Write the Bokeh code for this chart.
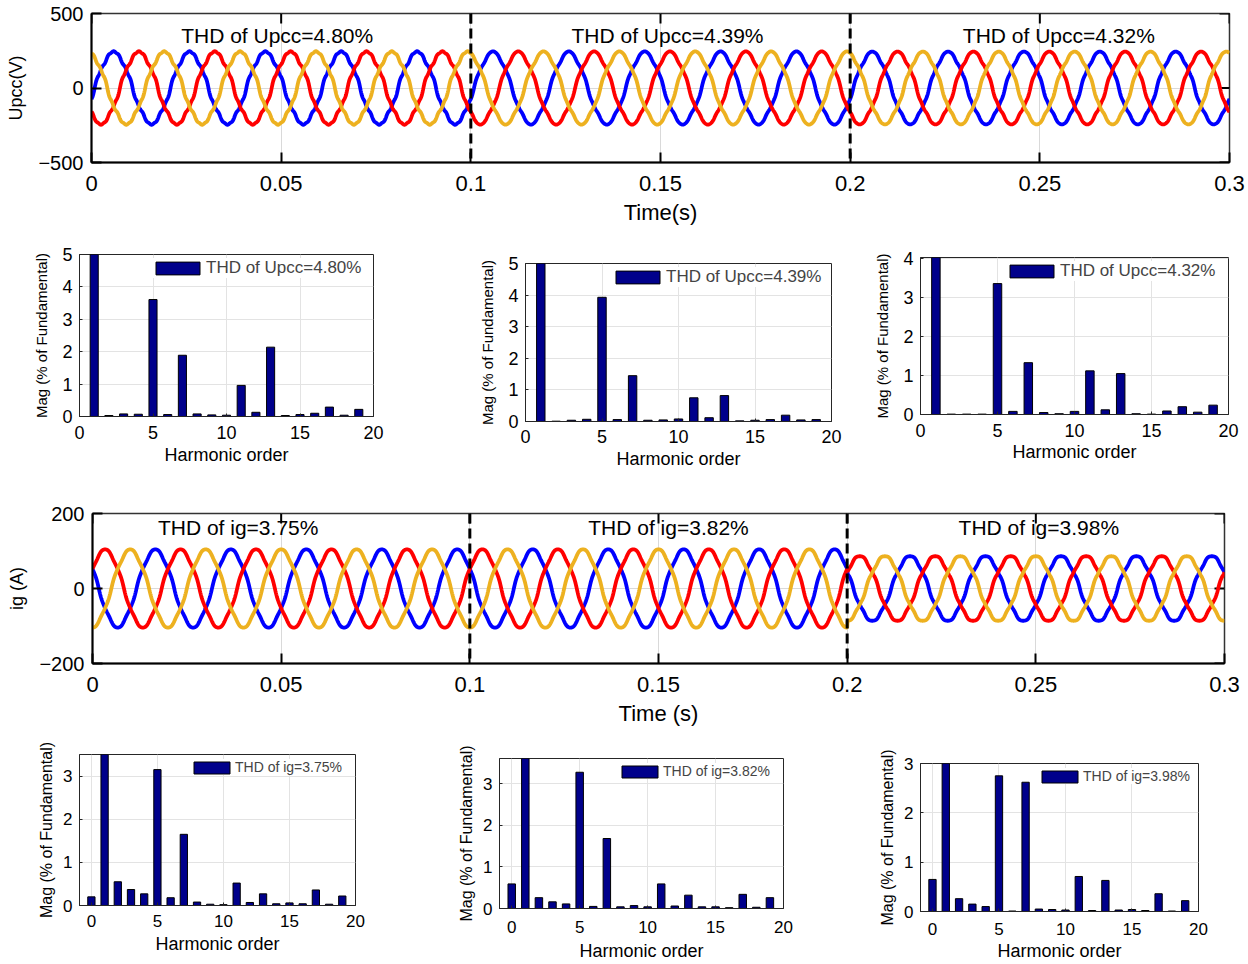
import numpy as np
from bokeh.plotting import figure
from bokeh.layouts import column, row
from bokeh.models import (Range1d, FixedTicker, Span, Label, Legend,
                          LegendItem, CustomJSTickFormatter)
from bokeh.embed import file_html
from bokeh.resources import INLINE

FONT = "Liberation Sans"

# ------------------------------------------------------------------ data
F0 = 50.0                               # fundamental frequency (Hz)
seg_edges = [0.0, 0.1, 0.2, 0.3]        # time segments (s)
time_ticks = [0, 0.05, 0.1, 0.15, 0.2, 0.25, 0.3]
upcc_yticks = [-500, 0, 500]
ig_yticks = [-200, 0, 200]

phase_colors = ["#0000FF", "#FF0000", "#EDB120"]
upcc_peak = [240, 240, 240]             # V, per segment
upcc_phase_deg = [-15, -135, 105]       # a, b, c
ig_peak = [103, 103, 86]                # A, per segment
ig_phase_deg = [150, 30, -90]

upcc_thd_text = ["THD of Upcc=4.80%", "THD of Upcc=4.39%", "THD of Upcc=4.32%"]
ig_thd_text = ["THD of ig=3.75%", "THD of ig=3.82%", "THD of ig=3.98%"]

# harmonic spectra (% of fundamental); fundamental = 100 (clipped by axis)
upcc_orders = list(range(1, 20))
upcc_spec_1 = [100, 0.03, 0.08, 0.07, 3.61, 0.06, 1.89, 0.08, 0.05, 0.04,
               0.96, 0.13, 2.14, 0.03, 0.06, 0.10, 0.29, 0.04, 0.22]
upcc_spec_2 = [100, 0.01, 0.04, 0.07, 3.93, 0.06, 1.45, 0.04, 0.05, 0.08,
               0.75, 0.12, 0.82, 0.02, 0.04, 0.06, 0.20, 0.05, 0.06]
upcc_spec_3 = [100, 0.01, 0.01, 0.01, 3.36, 0.08, 1.33, 0.05, 0.02, 0.08,
               1.12, 0.12, 1.05, 0.02, 0.01, 0.09, 0.20, 0.06, 0.24]

ig_orders = list(range(0, 20))
ig_spec_1 = [0.20, 100, 0.55, 0.37, 0.27, 3.15, 0.18, 1.65, 0.08, 0.03, 0.02,
             0.52, 0.07, 0.27, 0.04, 0.06, 0.04, 0.36, 0.03, 0.22]
ig_spec_2 = [0.59, 100, 0.26, 0.16, 0.11, 3.27, 0.05, 1.68, 0.04, 0.07, 0.04,
             0.59, 0.06, 0.32, 0.04, 0.04, 0.02, 0.34, 0.03, 0.26]
ig_spec_3 = [0.65, 100, 0.26, 0.15, 0.10, 2.75, 0.01, 2.62, 0.05, 0.04, 0.03,
             0.71, 0.02, 0.63, 0.03, 0.04, 0.02, 0.36, 0.01, 0.22]

# ------------------------------------------------------------------ waveforms
t = np.linspace(0.0, 0.3, 3001)
omega = 2 * np.pi * F0
seg_idx = np.clip(np.searchsorted(seg_edges, t, side="right") - 1, 0, 2)


def waveform(peaks, spectra, orders, phase_deg):
    amp = np.array(peaks, dtype=float)[seg_idx]
    theta = omega * t + np.deg2rad(phase_deg)
    y = np.sin(theta)
    for k in (5, 7, 11, 13):
        hk = np.array([s[orders.index(k)] for s in spectra])[seg_idx] / 100.0
        y = y + hk * np.sin(k * theta)
    return amp * y


def style_axis(ax, size, tick_in, color, width=1):
    ax.major_label_text_font = FONT
    ax.major_label_text_font_size = size
    ax.major_label_text_color = "black"
    ax.axis_label_text_font = FONT
    ax.axis_label_text_font_style = "normal"
    ax.axis_label_text_color = "black"
    ax.major_tick_in = tick_in
    ax.major_tick_out = 0
    ax.minor_tick_line_color = None
    ax.axis_line_color = color
    ax.axis_line_width = width
    ax.major_tick_line_color = color
    ax.major_tick_line_width = width


time_fmt = CustomJSTickFormatter(
    code="var s = tick.toFixed(2); s = s.replace(/0+$/, ''); return s.replace(/\\.$/, '');")


def wave_plot(peaks, spectra, orders, phases, yr, yticks, ylabel, xlabel,
              texts, text_dx, text_dy, w, h, bl, br, bt, bb):
    p = figure(width=w, height=h, x_range=Range1d(0, 0.3), y_range=Range1d(*yr),
               output_backend="svg", toolbar_location=None,
               min_border_left=bl, min_border_right=br,
               min_border_top=bt, min_border_bottom=bb)
    p.outline_line_color = "#333333"
    p.outline_line_width = 1.5
    p.xaxis.ticker = FixedTicker(ticks=time_ticks)
    p.xaxis.formatter = time_fmt
    p.yaxis.ticker = FixedTicker(ticks=yticks)
    p.xaxis.axis_label = xlabel
    p.yaxis.axis_label = ylabel
    style_axis(p.xaxis[0], "22px", 10, "black", 2)
    style_axis(p.yaxis[0], "20px", 10, "black", 2)
    p.xaxis.axis_label_text_font_size = "22px"
    p.yaxis.axis_label_text_font_size = "18px"
    p.xaxis.major_label_standoff = 13
    p.xaxis.axis_label_standoff = 6
    p.yaxis.major_label_standoff = 8
    p.yaxis.axis_label_standoff = 9
    p.xgrid.grid_line_color = "#d9d9d9"
    p.ygrid.grid_line_color = "#d9d9d9"
    p.xgrid.ticker = FixedTicker(ticks=time_ticks)
    p.ygrid.ticker = FixedTicker(ticks=yticks)
    # mirrored (inside) ticks on top and right edges, half clipped by the frame
    p.scatter(x=time_ticks, y=[yr[1]] * len(time_ticks), marker="dash",
              angle=np.pi / 2, size=20, line_color="black", line_width=2)
    p.scatter(x=[0.3] * len(yticks), y=yticks, marker="dash",
              size=20, line_color="black", line_width=2)
    for ph, col in zip(phases, phase_colors):
        p.line(t, waveform(peaks, spectra, orders, ph), line_color=col, line_width=3.8)
    for loc in seg_edges[1:-1]:
        p.add_layout(Span(location=loc, dimension="height", line_color="black",
                          line_width=3, line_dash="10 5"))
    for i, txt in enumerate(texts):
        mid = 0.5 * (seg_edges[i] + seg_edges[i + 1])
        p.add_layout(Label(x=mid, y=yr[1], text=txt, x_offset=text_dx[i],
                           y_offset=text_dy, text_align="center",
                           text_baseline="middle", text_font=FONT,
                           text_font_size="21px", text_color="black"))
    return p


def bar_plot(orders, vals, label, xr, ymax, yticks, w, h, bl, br, bt, bb,
             tick_font, xlab_font, ylab_font, tick_standoff, xlab_standoff,
             ylab_standoff, leg_font, gw, gh, leg_margin, label_w):
    p = figure(width=w, height=h, x_range=Range1d(*xr), y_range=Range1d(0, ymax),
               output_backend="svg", toolbar_location=None,
               min_border_left=bl, min_border_right=br,
               min_border_top=bt, min_border_bottom=bb)
    p.outline_line_color = "#262626"
    xt = [0, 5, 10, 15, 20]
    p.xaxis.ticker = FixedTicker(ticks=xt)
    p.yaxis.ticker = FixedTicker(ticks=yticks)
    p.xaxis.axis_label = "Harmonic order"
    p.yaxis.axis_label = "Mag (% of Fundamental)"
    for ax in (p.xaxis[0], p.yaxis[0]):
        style_axis(ax, tick_font, 3, "#262626")
    p.xaxis.axis_label_text_font_size = xlab_font
    p.yaxis.axis_label_text_font_size = ylab_font
    p.xaxis.major_label_standoff = tick_standoff
    p.xaxis.axis_label_standoff = xlab_standoff
    p.yaxis.major_label_standoff = 7
    p.yaxis.axis_label_standoff = ylab_standoff
    p.xgrid.grid_line_color = "#e3e3e3"
    p.ygrid.grid_line_color = "#e3e3e3"
    p.xgrid.ticker = FixedTicker(ticks=xt)
    p.ygrid.ticker = FixedTicker(ticks=yticks)
    r = p.vbar(x=orders, top=vals, width=0.55, fill_color="#00008B",
               line_color="black", line_width=1)
    leg = Legend(items=[LegendItem(label=label, renderers=[r])],
                 location="top_right")
    leg.label_text_font = FONT
    leg.label_text_font_size = leg_font
    leg.glyph_width = gw
    leg.glyph_height = gh
    leg.border_line_color = None
    leg.background_fill_alpha = 1.0
    leg.margin = leg_margin
    leg.padding = 3
    leg.label_standoff = 1
    leg.label_height = gh
    leg.label_width = label_w
    p.add_layout(leg)
    return p


# ------------------------------------------------------------------ figures
p_upcc = wave_plot(upcc_peak, [upcc_spec_1, upcc_spec_2, upcc_spec_3], upcc_orders,
                   upcc_phase_deg, (-500, 500), upcc_yticks, "Upcc(V)", "Time(s)",
                   upcc_thd_text, [-4, 7, 19], -22,
                   1248, 228, 91, 19, 13, 66)

b1 = bar_plot(upcc_orders, upcc_spec_1, upcc_thd_text[0], (0, 20), 5, [0, 1, 2, 3, 4, 5],
              450, 262, 79, 77, 26, 74, "18px", "18px", "15px", 9, 3, 9,
              "17px", 55, 16, 4, 163)
b2 = bar_plot(upcc_orders, upcc_spec_2, upcc_thd_text[1], (0, 20), 5, [0, 1, 2, 3, 4, 5],
              395, 262, 75, 14, 35, 69, "18px", "18px", "15px", 8, 3, 9,
              "17px", 55, 16, 4, 161)
b3 = bar_plot(upcc_orders, upcc_spec_3, upcc_thd_text[2], (0, 20), 4.03, [0, 1, 2, 3, 4],
              403, 262, 75, 20, 29, 76, "18px", "18px", "15px", 9, 2, 9,
              "17px", 55, 16, 4, 164)

p_ig = wave_plot(ig_peak, [ig_spec_1, ig_spec_2, ig_spec_3], ig_orders,
                 ig_phase_deg, (-200, 200), ig_yticks, "ig (A)", "Time (s)",
                 ig_thd_text, [-43, 10, 3], -14,
                 1248, 238, 92, 24, 23, 63)

b4 = bar_plot(ig_orders, ig_spec_1, ig_thd_text[0], (-0.9, 20), 3.5, [0, 1, 2, 3],
              430, 235, 79, 75, 26, 58, "17px", "18px", "16px", 9, 4, 5,
              "14px", 45, 15, 5, 115)
b5 = bar_plot(ig_orders, ig_spec_2, ig_thd_text[1], (-0.9, 20), 3.6, [0, 1, 2, 3],
              420, 235, 69, 67, 30, 54, "17px", "18px", "16px", 12, 5, 5,
              "14px", 45, 15, 5, 115)
b6 = bar_plot(ig_orders, ig_spec_3, ig_thd_text[2], (-0.9, 20), 3.0, [0, 1, 2, 3],
              398, 235, 70, 50, 35, 48, "17px", "18px", "16px", 11, 3, 5,
              "14px", 45, 15, 5, 110)

layout = column(column(p_upcc),
                row(column(b1), column(b2), column(b3)),
                column(p_ig),
                row(column(b4), column(b5), column(b6)))

open("out.html", "w").write(file_html(layout, INLINE))
